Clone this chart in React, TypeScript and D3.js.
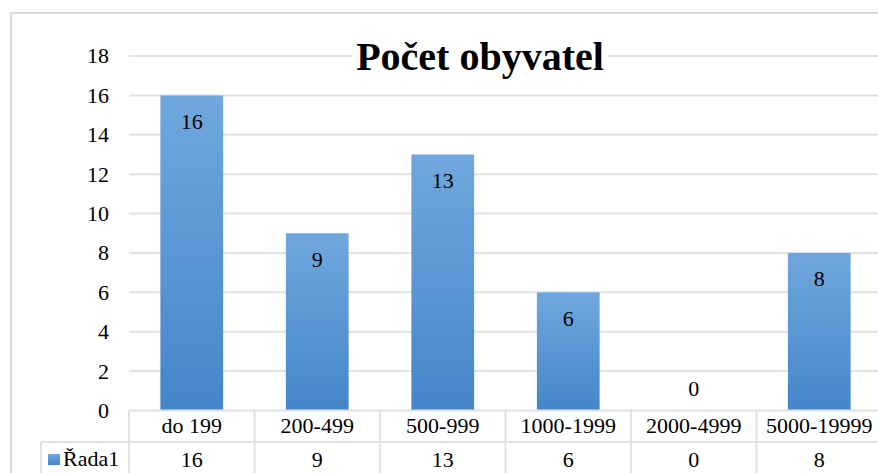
import React from "react";
import * as d3 from "d3";

const categories = ["do 199", "200-499", "500-999", "1000-1999", "2000-4999", "5000-19999"];
const values = [16, 9, 13, 6, 0, 8];
const yTicks = [0, 2, 4, 6, 8, 10, 12, 14, 16, 18];
const seriesName = "Řada1";
const title = "Počet obyvatel";

export default function App() {
  const W = 878, H = 473;
  const left = 129, right = 882, top = 56, bottom = 410.5;
  const x = d3.scaleBand<string>().domain(categories).range([left, right]).paddingInner(0.5).paddingOuter(0.25);
  const xb = d3.scaleBand<string>().domain(categories).range([left, right]);
  const y = d3.scaleLinear().domain([0, 18]).range([bottom, top]);
  const font = "Liberation Serif";
  const grid = "#dfe2e7";
  const rowY1 = 442;
  const tableBottom = 478;
  const fs = 22;
  return (
    <svg width={W} height={H} fontFamily={font} style={{ position: "absolute", left: 0, top: 0, background: "#fff" }}>
      <defs>
        <linearGradient id="barg" x1="0" y1="0" x2="0" y2="1">
          <stop offset="0%" stopColor="#70a7de" />
          <stop offset="100%" stopColor="#4486c9" />
        </linearGradient>
      </defs>
      <rect x={11} y={13} width={W + 20} height={H + 20} fill="#fff" stroke="#dadde3" strokeWidth={2} />
      {yTicks.map((t) => (
        <g key={t}>
          {t > 0 && <line x1={left} x2={right} y1={y(t)} y2={y(t)} stroke={grid} strokeWidth={2} />}
          <text x={109} y={y(t)} dy="0.34em" textAnchor="end" fontFamily={font} fontSize={fs} fill="#000">{t}</text>
        </g>
      ))}
      <rect x={352} y={36} width={256} height={44} fill="#fff" />
      <text x={480} y={70} textAnchor="middle" fontFamily={font} fontWeight="bold" fontSize={40} fill="#000">{title}</text>
      {categories.map((c, i) => {
        const v = values[i];
        const bx = x(c)!;
        const bw = x.bandwidth();
        const cx = bx + bw / 2;
        const ly = v > 0 ? y(v) + 26 : y(0) - 22;
        return (
          <g key={c}>
            {v > 0 && <rect x={bx} y={y(v)} width={bw} height={y(0) - y(v)} fill="url(#barg)" />}
            <text x={cx} y={ly} dy="0.34em" textAnchor="middle" fontFamily={font} fontSize={fs} fill="#000">{v}</text>
          </g>
        );
      })}
      <line x1={left} x2={right} y1={bottom} y2={bottom} stroke={grid} strokeWidth={2} />
      <line x1={41} x2={right} y1={rowY1} y2={rowY1} stroke={grid} strokeWidth={2} />
      <line x1={41} x2={41} y1={rowY1} y2={tableBottom} stroke={grid} strokeWidth={2} />
      {categories.map((c) => (
        <line key={"v" + c} x1={xb(c)!} x2={xb(c)!} y1={bottom} y2={tableBottom} stroke={grid} strokeWidth={2} />
      ))}
      <line x1={right} x2={right} y1={bottom} y2={tableBottom} stroke={grid} strokeWidth={2} />
      {categories.map((c, i) => (
        <g key={"t" + c}>
          <text x={xb(c)! + xb.bandwidth() / 2} y={426} dy="0.34em" textAnchor="middle" fontFamily={font} fontSize={fs} fill="#000">{c}</text>
          <text x={xb(c)! + xb.bandwidth() / 2} y={460} dy="0.34em" textAnchor="middle" fontFamily={font} fontSize={fs} fill="#000">{values[i]}</text>
        </g>
      ))}
      <rect x={48} y={454} width={12} height={11} fill="url(#barg)" />
      <text x={63} y={466} fontFamily={font} fontSize={fs} fill="#000">{seriesName}</text>
    </svg>
  );
}
